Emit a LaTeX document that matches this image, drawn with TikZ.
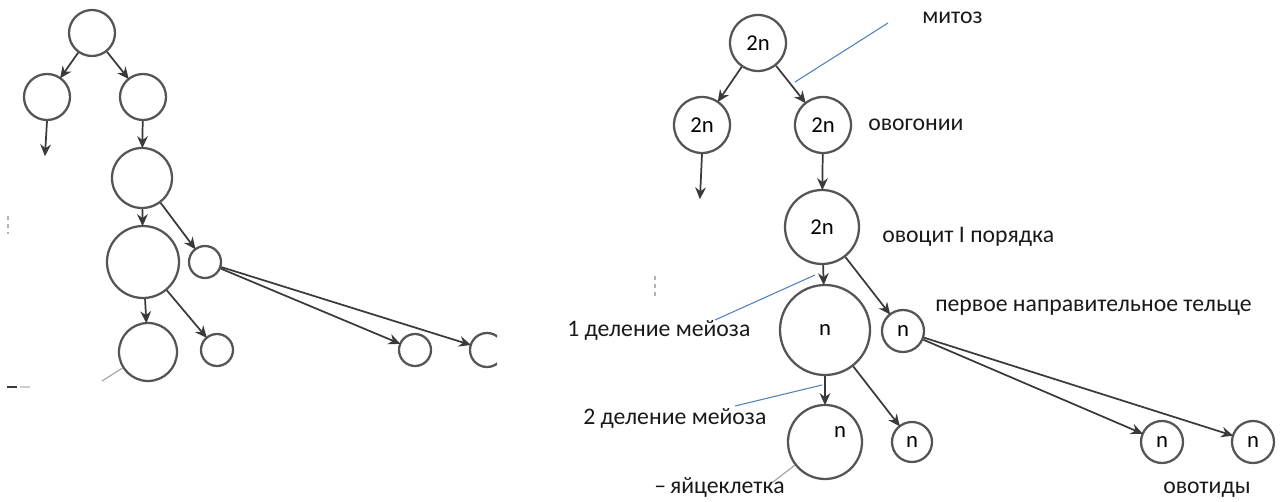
\documentclass[tikz,border=0pt]{standalone}
\usepackage{fontspec}
\setmainfont{Carlito}
\usetikzlibrary{arrows.meta}
\definecolor{ink}{HTML}{3A3A3A}
\definecolor{ring}{HTML}{555555}
\definecolor{pointer}{HTML}{4F81BD}
\tikzset{
  cell/.style={circle, draw=ring, line width=1.7pt, inner sep=0pt, minimum size=#1*1.5pt, font=\fontsize{17}{19}\selectfont},
  link/.style={draw=ink, line width=1.3pt, -{Stealth[length=9pt, width=8pt]}, shorten >=-1pt},
  lbl/.style={font=\fontsize{17.8}{20}\selectfont, text=black!90, inner sep=0pt},
  leader/.style={draw=pointer, line width=0.8pt},
  stub/.style={draw=gray!70, line width=0.9pt}
}
\begin{document}
\begin{tikzpicture}[x=0.75pt, y=-0.75pt]
\useasboundingbox (0,0) rectangle (1286,502);

% ---------- blank scheme (left) ----------
\node[cell=23] (a0) at (92,33) {};
\node[cell=23] (a1) at (47,97) {};
\node[cell=23] (a2) at (143,97) {};
\node[cell=30] (a3) at (142,178) {};
\node[cell=36] (a4) at (143,262) {};
\node[cell=16] (a5) at (205,262) {};
\node[cell=29] (a6) at (148,352) {};
\node[cell=16] (a7) at (217,350) {};
\node[cell=16] (a8) at (415,350) {};
\begin{scope}
  \clip (460,320) rectangle (497,380);
  \node[cell=17] (a9) at (487,350) {};
\end{scope}
\coordinate (a1end) at (45,155);
\coordinate (a6tail) at (102,381);

\draw[link] (a0) -- (a1);
\draw[link] (a0) -- (a2);
\draw[link] (a1.south) -- (a1end);
\draw[link] (a2) -- (a3);
\draw[link] (a3) -- (a4);
\draw[link] (a3) -- (a5);
\draw[link] (a4) -- (a6);
\draw[link] (a4) -- (a7);
\draw[link] (a5) -- (a8);
\draw[link] (a5) -- (a9);
\draw[stub] (a6) -- (a6tail);

% stray marks of the scan
\draw[ink, line width=1.8pt] (7,387) -- (17,387);
\draw[gray!40, line width=1pt] (20,387) -- (30,387);
\draw[gray!60, line width=0.8pt, dashed] (8,216) -- (8,234);

% ---------- labelled scheme (right) ----------
\node[cell=28] (b0) at (758,43) {2n};
\node[cell=28] (b1) at (702,125) {2n};
\node[cell=28] (b2) at (823,125) {2n};
\node[cell=37] (b3) at (822,227) {2n};
\node[cell=45] (b4) at (825,330) {n};
\node[cell=21] (b5) at (903,331) {n};
\node[cell=37] (b6) at (825,442) {};
\node at (840,432) {\fontsize{17}{19}\selectfont n};
\node[cell=20] (b7) at (912,442) {n};
\node[cell=21] (b8) at (1162,442) {n};
\node[cell=21] (b9) at (1253,442) {n};
\coordinate (b1end) at (700,198);

\draw[link] (b0) -- (b1);
\draw[link] (b0) -- (b2);
\draw[link] (b1.south) -- (b1end);
\draw[link] (b2) -- (b3);
\draw[link] (b3) -- (b4);
\draw[link] (b3) -- (b5);
\draw[link] (b4) -- (b6);
\draw[link] (b4) -- (b7);
\draw[link] (b5) -- (b8);
\draw[link] (b5) -- (b9);

% labels
\node[lbl, anchor=west] (mit) at (922,18) {митоз};
\node[lbl, anchor=west] (ovg) at (868,125) {овогонии};
\node[lbl, anchor=west] (ovc) at (882,237) {овоцит I порядка};
\node[lbl, anchor=west] (pnt) at (935,308) {первое направительное тельце};
\node[lbl, anchor=west] (m1) at (567,330) {1 деление мейоза};
\node[lbl, anchor=west] (m2) at (583,418) {2 деление мейоза};
\node[lbl, anchor=west] (egg) at (654,487) {–\,яйцеклетка};
\node[lbl, anchor=west] (ovt) at (1163,490) {овотиды};

% leader lines
\coordinate (mitA) at (888,23);
\coordinate (mitB) at (795,82);
\coordinate (m1A) at (715,320);
\coordinate (m1B) at (815,275);
\coordinate (m2A) at (735,406);
\coordinate (m2B) at (822,385);
\draw[leader] (mitA) -- (mitB);
\draw[leader] (m1A) -- (m1B);
\draw[leader] (m2A) -- (m2B);
\coordinate (eggtail) at (773,482);
\draw[stub] (b6) -- (eggtail);
\draw[gray!60, line width=0.8pt, dashed] (655,276) -- (655,296);
\end{tikzpicture}
\end{document}
